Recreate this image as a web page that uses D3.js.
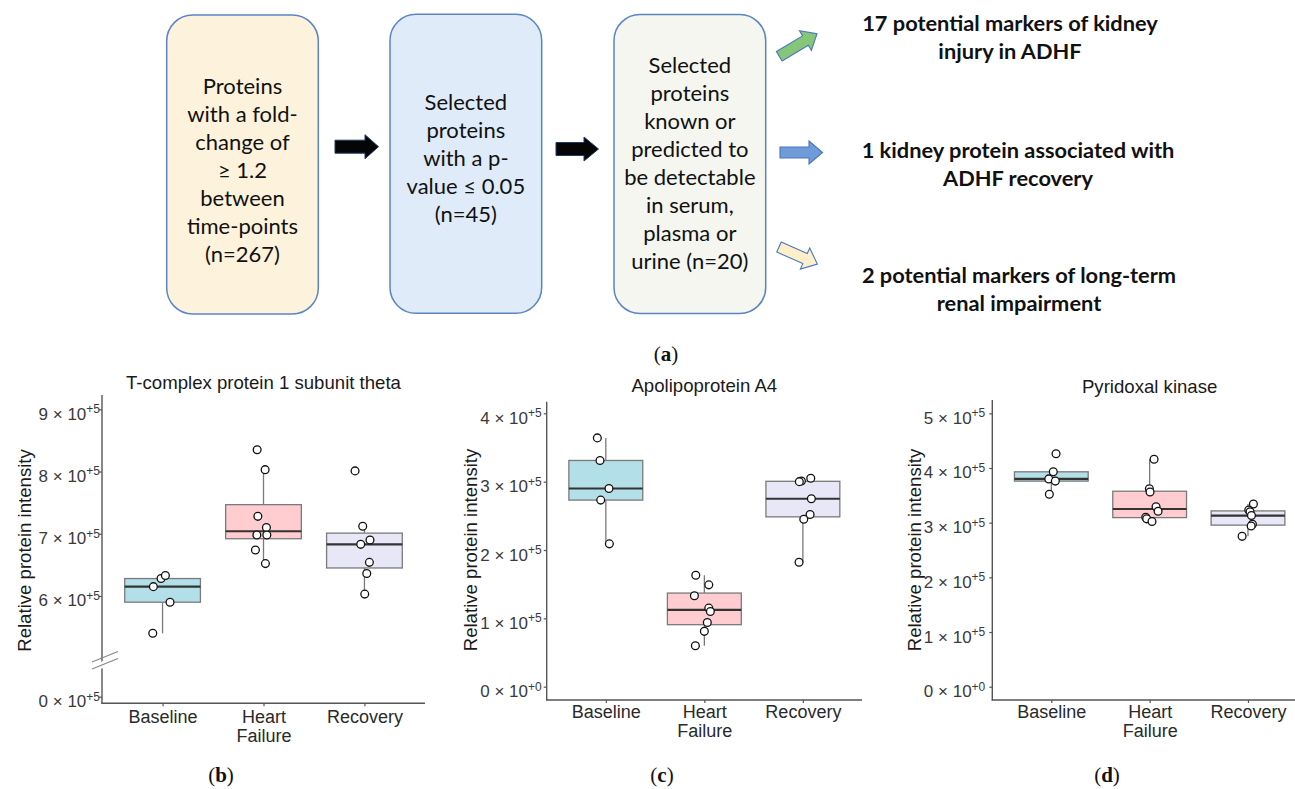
<!DOCTYPE html>
<html>
<head>
<meta charset="utf-8">
<script src="https://cdn.jsdelivr.net/npm/d3@7"></script>
<style>
  body { margin: 0; background: #ffffff; }
  svg { display: block; }
</style>
</head>
<body>
<svg id="fig" width="1295" height="789"></svg>
<script>
// ---------------- data ----------------
const groups = ["Baseline", "Heart Failure", "Recovery"];

// (a) selection workflow
const stepBox1 = ["Proteins", "with a fold-", "change of", "≥ 1.2", "between", "time-points", "(n=267)"];
const stepBox2 = ["Selected", "proteins", "with a p-", "value ≤ 0.05", "(n=45)"];
const stepBox3 = ["Selected", "proteins", "known or", "predicted to", "be detectable", "in serum,", "plasma or", "urine (n=20)"];
const outcome1 = ["17 potential markers of kidney", "injury in ADHF"];
const outcome2 = ["1 kidney protein associated with", "ADHF recovery"];
const outcome3 = ["2 potential markers of long-term", "renal impairment"];

// (b) T-complex protein 1 subunit theta
const tcpBaseline     = [5.40e5, 5.90e5, 6.15e5, 6.28e5, 6.33e5];
const tcpHeartFailure = [8.35e5, 8.03e5, 7.28e5, 7.10e5, 6.98e5, 6.98e5, 6.74e5, 6.52e5];
const tcpRecovery     = [8.01e5, 7.12e5, 6.90e5, 6.83e5, 6.54e5, 6.36e5, 6.03e5];
const tcpTicks        = [0, 6e5, 7e5, 8e5, 9e5];
const tcpTickLabels   = ["0 × 10^+5", "6 × 10^+5", "7 × 10^+5", "8 × 10^+5", "9 × 10^+5"];

// (c) Apolipoprotein A4
const apoBaseline     = [3.64e5, 3.31e5, 2.90e5, 2.73e5, 2.09e5];
const apoHeartFailure = [1.63e5, 1.49e5, 1.33e5, 1.15e5, 1.10e5, 0.94e5, 0.81e5, 0.60e5];
const apoRecovery     = [3.05e5, 3.01e5, 3.00e5, 2.75e5, 2.52e5, 2.45e5, 1.82e5];
const apoTicks        = [0, 1e5, 2e5, 3e5, 4e5];
const apoTickLabels   = ["0 × 10^+0", "1 × 10^+5", "2 × 10^+5", "3 × 10^+5", "4 × 10^+5"];

// (d) Pyridoxal kinase
const pdxBaseline     = [4.26e5, 3.93e5, 3.80e5, 3.76e5, 3.52e5];
const pdxHeartFailure = [4.16e5, 3.62e5, 3.56e5, 3.29e5, 3.21e5, 3.10e5, 3.07e5, 3.02e5];
const pdxRecovery     = [3.34e5, 3.23e5, 3.20e5, 3.13e5, 2.97e5, 2.94e5, 2.75e5];
const pdxTicks        = [0, 1e5, 2e5, 3e5, 4e5, 5e5];
const pdxTickLabels   = ["0 × 10^+0", "1 × 10^+5", "2 × 10^+5", "3 × 10^+5", "4 × 10^+5", "5 × 10^+5"];

// horizontal jitter of each sample point, in category widths
const tcpJitter = [[-0.097, 0.074, -0.091, -0.015, 0.028],
                   [-0.063, 0.016, -0.056, 0.029, -0.066, 0.033, -0.080, 0.019],
                   [-0.093, -0.017, 0.055, -0.037, 0.049, 0.023, 0.003]];
const apoJitter = [[-0.086, -0.059, 0.032, -0.052, 0.036],
                   [-0.087, 0.045, -0.101, 0.045, 0.061, 0.030, 0.000, -0.091],
                   [0.080, -0.015, -0.036, 0.086, 0.073, 0.009, -0.039]];
const pdxJitter = [[0.048, 0.020, -0.026, 0.041, -0.020],
                   [0.045, -0.003, 0.004, 0.065, 0.086, -0.040, -0.030, 0.024],
                   [0.055, 0.008, 0.021, 0.035, 0.045, 0.032, -0.060]];

// ---------------- styles ----------------
const groupFill = ["#b3e0e8", "#ffcdcf", "#e7e7f8"];
const sansFont = "'Liberation Sans', Arial, sans-serif";
const flowFont = "Lato, 'Open Sans', sans-serif";
const serifFont = "'Liberation Serif', 'Times New Roman', serif";

const svg = d3.select("#fig");

// ---------------- (a) workflow ----------------
const flow = svg.append("g").attr("class", "workflow");

const boxes = [
  { lines: stepBox1, x: 166.7, y: 15,   w: 151.6, h: 299, fill: "#fdf3dc", firstBaseline: 94.3 },
  { lines: stepBox2, x: 390,   y: 14.3, w: 151.7, h: 299, fill: "#dfebf8", firstBaseline: 110 },
  { lines: stepBox3, x: 614,   y: 14.5, w: 151.7, h: 299, fill: "#f4f6ef", firstBaseline: 72.7 }
];
const flowLine = 28;

boxes.forEach(b => {
  flow.append("rect")
    .attr("x", b.x).attr("y", b.y).attr("width", b.w).attr("height", b.h)
    .attr("rx", 26).attr("ry", 26)
    .attr("fill", b.fill).attr("stroke", "#5b84c6").attr("stroke-width", 1.5);
  const t = flow.append("text")
    .attr("font-family", flowFont).attr("font-size", 22).attr("fill", "#111")
    .attr("text-anchor", "middle");
  b.lines.forEach((ln, i) => {
    t.append("tspan").attr("x", b.x + b.w / 2).attr("y", b.firstBaseline + i * flowLine).text(ln);
  });
});

// black block arrows between the steps
function blockArrow(x0, x1, headStart, cy, shaftHalf, headHalf) {
  const p = d3.path();
  p.moveTo(x0, cy - shaftHalf);
  p.lineTo(headStart, cy - shaftHalf);
  p.lineTo(headStart, cy - headHalf);
  p.lineTo(x1, cy);
  p.lineTo(headStart, cy + headHalf);
  p.lineTo(headStart, cy + shaftHalf);
  p.lineTo(x0, cy + shaftHalf);
  p.closePath();
  return p.toString();
}
flow.append("path").attr("d", blockArrow(335, 378.5, 365, 146.7, 6.5, 12))
  .attr("fill", "#050505").attr("stroke", "#1f3a68").attr("stroke-width", 1);
flow.append("path").attr("d", blockArrow(556, 598.5, 584, 149, 6.5, 12))
  .attr("fill", "#050505").attr("stroke", "#1f3a68").attr("stroke-width", 1);

// coloured arrows toward the outcomes (drawn along +x, then rotated)
const outArrows = [
  { cx: 779.3, cy: 56.3, angle: -31, len: 44, fill: "#85c777" },
  { cx: 780,   cy: 152.5, angle: 0,  len: 42.5, fill: "#6f9bd8" },
  { cx: 779,   cy: 247,  angle: 24, len: 42, fill: "#fdefc9" }
];
outArrows.forEach(a => {
  flow.append("path")
    .attr("d", blockArrow(0, a.len, a.len - 13.5, 0, 5.5, 11.5))
    .attr("transform", `translate(${a.cx},${a.cy}) rotate(${a.angle})`)
    .attr("fill", a.fill).attr("stroke", "#4a76c0").attr("stroke-width", 1.1);
});

const outcomes = [
  { lines: outcome1, cx: 1010, base: 31 },
  { lines: outcome2, cx: 1018, base: 158 },
  { lines: outcome3, cx: 1019, base: 283 }
];
outcomes.forEach(o => {
  const t = flow.append("text")
    .attr("font-family", flowFont).attr("font-weight", 700).attr("font-size", 21.8)
    .attr("fill", "#111").attr("text-anchor", "middle");
  o.lines.forEach((ln, i) => {
    t.append("tspan").attr("x", o.cx).attr("y", o.base + i * 27.5).text(ln);
  });
});

// ---------------- panel labels ----------------
function panelLabel(letter, cx, baseline) {
  const t = svg.append("text")
    .attr("x", cx).attr("y", baseline).attr("text-anchor", "middle")
    .attr("font-family", serifFont).attr("font-size", 21).attr("fill", "#111");
  t.append("tspan").text("(");
  t.append("tspan").attr("font-weight", 700).text(letter);
  t.append("tspan").text(")");
}
panelLabel("a", 666, 361);

// ---------------- box plots ----------------
function boxStats(values) {
  const s = values.slice().sort(d3.ascending);
  const q1 = d3.quantile(s, 0.25), med = d3.quantile(s, 0.5), q3 = d3.quantile(s, 0.75);
  const iqr = q3 - q1;
  const lo = d3.min(s.filter(v => v >= q1 - 1.5 * iqr));
  const hi = d3.max(s.filter(v => v <= q3 + 1.5 * iqr));
  return { q1, med, q3, lo, hi };
}

function drawPanel(cfg) {
  const g = svg.append("g");
  const x = d3.scalePoint().domain(groups).range([cfg.x0, cfg.x1]).padding(0.6);
  const y = d3.scaleLinear().domain(cfg.yDomain).range(cfg.yRange);
  const step = x.step();
  const bw = step * 0.75;

  // title
  g.append("text").attr("x", (cfg.x0 + cfg.x1) / 2).attr("y", cfg.titleY)
    .attr("text-anchor", "middle").attr("font-family", sansFont).attr("font-size", 18.6)
    .attr("fill", "#1a1a1a").text(cfg.title);

  // axis title
  g.append("text")
    .attr("transform", `translate(${cfg.yTitleX},${cfg.yTitleY}) rotate(-90)`)
    .attr("text-anchor", "middle").attr("font-family", sansFont).attr("font-size", 18.6)
    .attr("fill", "#1a1a1a").text("Relative protein intensity");

  // y axis: ticks from the scale, custom scientific labels
  const yAxis = d3.axisLeft(y).tickValues(cfg.ticks).tickSize(3).tickFormat(() => "");
  const ya = g.append("g").attr("transform", `translate(${cfg.x0},0)`).call(yAxis);
  ya.select(".domain").remove();
  ya.selectAll(".tick line").attr("stroke", "#555").attr("stroke-width", 1.2);
  ya.selectAll(".tick").each(function(d, i) {
    const parts = cfg.tickLabels[i].split("^");
    const t = d3.select(this).append("text")
      .attr("x", -cfg.labelGap).attr("y", 10).attr("dy", 0)
      .attr("text-anchor", "end").attr("font-family", sansFont)
      .attr("font-size", 17).attr("fill", "#3a3a3a");
    t.append("tspan").text(parts[0]);
    t.append("tspan").attr("font-size", 12).attr("dy", -6.6).text(parts[1]);
  });

  // x axis
  const xAxis = d3.axisBottom(x).tickSize(3).tickFormat(() => "");
  const xa = g.append("g").attr("transform", `translate(0,${cfg.axisY})`).call(xAxis);
  xa.select(".domain").remove();
  xa.selectAll(".tick line").attr("stroke", "#555").attr("stroke-width", 1.2);
  xa.selectAll(".tick").each(function(d) {
    const t = d3.select(this).append("text")
      .attr("text-anchor", "middle").attr("font-family", sansFont)
      .attr("font-size", 18).attr("fill", "#2a2a2a");
    d.split(" ").forEach((w, i) => {
      t.append("tspan").attr("x", 0).attr("y", cfg.xLabelDy + i * cfg.xLabelLine).text(w);
    });
  });

  // axis lines
  g.append("line").attr("x1", cfg.x0).attr("x2", cfg.x0).attr("y1", cfg.axisTop).attr("y2", cfg.axisY + 0.6)
    .attr("stroke", "#555").attr("stroke-width", 1.4);
  g.append("line").attr("x1", cfg.x0 - 0.6).attr("x2", cfg.x1).attr("y1", cfg.axisY).attr("y2", cfg.axisY)
    .attr("stroke", "#555").attr("stroke-width", 1.4);

  // boxes
  cfg.series.forEach((vals, gi) => {
    const st = boxStats(vals);
    const cx = x(groups[gi]);
    const bg = g.append("g");
    bg.append("line").attr("x1", cx).attr("x2", cx).attr("y1", y(st.q3)).attr("y2", y(st.hi))
      .attr("stroke", "#7a7a7a").attr("stroke-width", 1.3);
    bg.append("line").attr("x1", cx).attr("x2", cx).attr("y1", y(st.q1)).attr("y2", y(st.lo))
      .attr("stroke", "#7a7a7a").attr("stroke-width", 1.3);
    bg.append("rect").attr("x", cx - bw / 2).attr("width", bw)
      .attr("y", y(st.q3)).attr("height", y(st.q1) - y(st.q3))
      .attr("fill", groupFill[gi]).attr("stroke", "#7a7a7a").attr("stroke-width", 1.3);
    bg.append("line").attr("x1", cx - bw / 2).attr("x2", cx + bw / 2)
      .attr("y1", y(st.med)).attr("y2", y(st.med))
      .attr("stroke", "#333").attr("stroke-width", 2.2);
  });

  // sample points
  cfg.series.forEach((vals, gi) => {
    const cx = x(groups[gi]);
    g.selectAll(null).data(vals).join("circle")
      .attr("cx", (v, i) => cx + cfg.jitter[gi][i] * step)
      .attr("cy", v => y(v))
      .attr("r", 3.9)
      .attr("fill", "#ffffff").attr("stroke", "#111").attr("stroke-width", 1.3);
  });

  return g;
}

// (b): broken axis, 0 to 5e5 compressed below the break
const pb = drawPanel({
  title: "T-complex protein 1 subunit theta",
  series: [tcpBaseline, tcpHeartFailure, tcpRecovery], jitter: tcpJitter,
  ticks: tcpTicks, tickLabels: tcpTickLabels,
  yDomain: [0, 5e5, 9e5], yRange: [696.7, 658.2, 409.3],
  x0: 102, x1: 425, axisY: 703.3, axisTop: 395, labelGap: 2,
  titleY: 388.5, yTitleX: 31, yTitleY: 550.5, xLabelDy: 19.4, xLabelLine: 19
});
pb.append("path").attr("d", "M92,665.5 L118,655 L118,662 L92,672.5 Z").attr("fill", "#ffffff");
pb.append("line").attr("x1", 92).attr("y1", 662).attr("x2", 118).attr("y2", 651.5)
  .attr("stroke", "#888").attr("stroke-width", 1.3);
pb.append("line").attr("x1", 92).attr("y1", 669).attr("x2", 118).attr("y2", 658.5)
  .attr("stroke", "#888").attr("stroke-width", 1.3);
panelLabel("b", 221, 782);

// (c)
drawPanel({
  title: "Apolipoprotein A4",
  series: [apoBaseline, apoHeartFailure, apoRecovery], jitter: apoJitter,
  ticks: apoTicks, tickLabels: apoTickLabels,
  yDomain: [0, 4e5], yRange: [686.7, 413.3],
  x0: 546.7, x1: 862, axisY: 700, axisTop: 401.7, labelGap: 5,
  titleY: 392, yTitleX: 477, yTitleY: 550, xLabelDy: 18.3, xLabelLine: 18.5
});
panelLabel("c", 662, 782);

// (d)
drawPanel({
  title: "Pyridoxal kinase",
  series: [pdxBaseline, pdxHeartFailure, pdxRecovery], jitter: pdxJitter,
  ticks: pdxTicks, tickLabels: pdxTickLabels,
  yDomain: [0, 5e5], yRange: [686.7, 413.3],
  x0: 992.3, x1: 1307, axisY: 700, axisTop: 400, labelGap: 7,
  titleY: 393, yTitleX: 921, yTitleY: 550, xLabelDy: 18.3, xLabelLine: 18.5
});
panelLabel("d", 1107, 782);
</script>
</body>
</html>
